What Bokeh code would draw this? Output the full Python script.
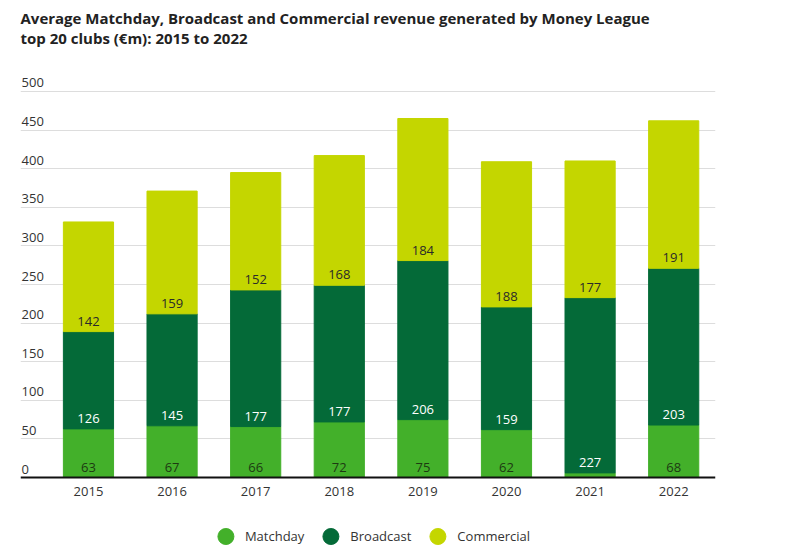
from bokeh.plotting import figure
from bokeh.models import ColumnDataSource, FixedTicker, Legend, LegendItem, Span
from bokeh.core.properties import value
from bokeh.embed import file_html
from bokeh.resources import INLINE

years = ["2015", "2016", "2017", "2018", "2019", "2020", "2021", "2022"]
matchday = [63, 67, 66, 72, 75, 62, 6, 68]
broadcast = [126, 145, 177, 177, 206, 159, 227, 203]
commercial = [142, 159, 152, 168, 184, 188, 177, 191]
matchday_labels = ["63", "67", "66", "72", "75", "62", "", "68"]
y_ticks = [0, 50, 100, 150, 200, 250, 300, 350, 400, 450, 500]

C_MATCH = "#43B02A"
C_BROAD = "#046A38"
C_COMM = "#C4D600"
FONT = "Open Sans"

xs = list(range(len(years)))
c_base = [m + b for m, b in zip(matchday, broadcast)]
c_top = [c + v for c, v in zip(c_base, commercial)]

src = ColumnDataSource(dict(
    x=xs, m0=[0] * len(xs), m1=matchday, b1=c_base, c1=c_top, yr=years,
    ml=matchday_labels, bl=[str(v) for v in broadcast], cl=[str(v) for v in commercial],
))

p = figure(width=800, height=556, output_backend="svg", toolbar_location=None,
           x_range=(-0.813, 7.5), y_range=(-102.3, 550.5),
           x_axis_location=None, y_axis_location=None,
           min_border_left=20, min_border_right=85, min_border_top=10, min_border_bottom=0,
           background_fill_color="white", border_fill_color="white", outline_line_color=None)

p.title.text = "Average Matchday, Broadcast and Commercial revenue generated by Money League\ntop 20 clubs (€m): 2015 to 2022"
p.title.text_font = FONT
p.title.text_font_style = "bold"
p.title.text_font_size = "15px"
p.title.text_color = "#222222"
p.title.align = "left"

p.xgrid.visible = False
p.ygrid.ticker = FixedTicker(ticks=y_ticks[1:])
p.ygrid.grid_line_color = "#dddddd"
p.ygrid.grid_line_width = 1

w = 0.6
p.vbar(x="x", bottom="m0", top="m1", width=w, color=C_MATCH, source=src)
p.vbar(x="x", bottom="m1", top="b1", width=w, color=C_BROAD, source=src)
p.vbar(x="x", bottom="b1", top="c1", width=w, color=C_COMM, source=src)

p.add_layout(Span(location=0, dimension="width", line_color="#111111", line_width=2))

common = dict(text_font=value(FONT), text_font_size="13px", text_align="center",
              text_baseline="bottom", y_offset=-6, source=src)
p.text(x="x", y="m0", text="ml", text_color="#1d3a12", **common)
p.text(x="x", y="m1", text="bl", text_color="white", **common)
p.text(x="x", y="b1", text="cl", text_color="#2a2a2a", **common)

# year labels under the baseline
p.text(x="x", y="m0", text="yr", text_font=value(FONT), text_font_size="13px",
       text_color="#333333", text_align="center", text_baseline="top", y_offset=9, source=src)

# y tick labels drawn above gridlines
p.text(x=[-0.8] * len(y_ticks), y=y_ticks, text=[str(t) for t in y_ticks],
       text_font=value(FONT), text_font_size="13px", text_color="#333333",
       text_align="left", text_baseline="bottom", y_offset=-4)

d_m = p.scatter(x=[-10], y=[-1000], size=16, color=C_MATCH)
d_b = p.scatter(x=[-10], y=[-1000], size=16, color=C_BROAD)
d_c = p.scatter(x=[-10], y=[-1000], size=16, color=C_COMM)
legend = Legend(items=[LegendItem(label="Matchday", renderers=[d_m]),
                       LegendItem(label="Broadcast", renderers=[d_b]),
                       LegendItem(label="Commercial", renderers=[d_c])],
                orientation="horizontal", location="bottom",
                label_text_font=FONT, label_text_font_size="13px", label_text_color="#333333",
                glyph_width=40, glyph_height=40, spacing=6, label_standoff=0,
                border_line_color=None, background_fill_alpha=0, margin=0, padding=0)
p.add_layout(legend)

open("out.html", "w").write(file_html(p, INLINE))
